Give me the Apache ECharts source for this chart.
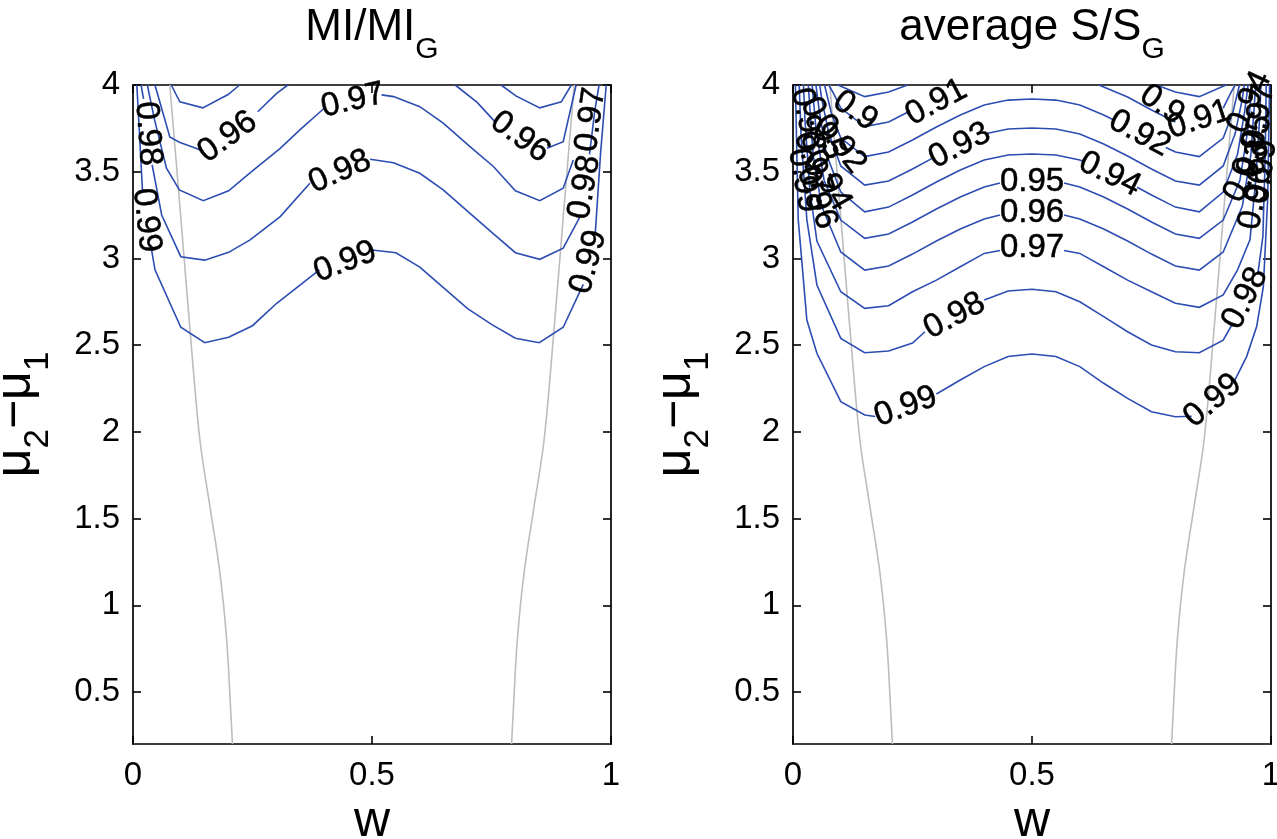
<!DOCTYPE html>
<html><head><meta charset="utf-8">
<script src="https://cdn.jsdelivr.net/npm/echarts@6/dist/echarts.min.js"></script>
<style>html,body{margin:0;padding:0;background:#fff}#c{width:1277px;height:839px}</style>
</head><body><div id="c"></div>
<script>
// ---------- data ----------
const xTicks = [0, 0.5, 1];
const yTicks = [0.5, 1, 1.5, 2, 2.5, 3, 3.5, 4];

// gray boundary curves (same in both panels)
const grayLeft = [[0.077,4.0],[0.099,3.27],[0.121,2.53],[0.14,1.953],[0.161,1.568],[0.182,1.184],[0.196,0.8],[0.204,0.415],[0.208,0.2]];
const grayRight = [[0.923,4.0],[0.901,3.27],[0.879,2.53],[0.86,1.953],[0.839,1.568],[0.818,1.184],[0.804,0.8],[0.796,0.415],[0.792,0.2]];

// left panel: MI/MI_G contours (segments, broken where labels sit)
const mi099 = [
  [[0.008,4.0],[0.013,3.75],[0.02,3.38]],
  [[0.037,3.08],[0.046,2.934],[0.1,2.603],[0.15,2.514],[0.2,2.545],[0.25,2.612],[0.3,2.74],[0.39,2.934]],
  [[0.5,3.049],[0.55,3.033],[0.6,2.95],[0.65,2.83],[0.7,2.71],[0.75,2.62],[0.8,2.54],[0.85,2.514],[0.9,2.603],[0.942,2.85]],
  [[0.967,3.14],[0.978,3.6],[0.99,4.0]]
];
const mi098 = [
  [[0.017,4.0],[0.022,3.92]],
  [[0.04,3.54],[0.06,3.25],[0.1,3.01],[0.15,2.99],[0.2,3.035],[0.245,3.107],[0.308,3.241],[0.37,3.434]],
  [[0.496,3.572],[0.545,3.552],[0.6,3.491],[0.649,3.395],[0.705,3.26],[0.753,3.145],[0.8,3.033],[0.851,2.995],[0.9,3.059],[0.935,3.24]],
  [[0.955,3.6],[0.966,3.85],[0.975,4.0]]
];
const mi097 = [
  [[0.03,4.0],[0.045,3.8],[0.07,3.52],[0.097,3.395],[0.147,3.333],[0.2,3.39],[0.248,3.5],[0.308,3.635],[0.349,3.741],[0.40,3.866]],
  [[0.52,3.943],[0.545,3.933],[0.6,3.875],[0.649,3.78],[0.705,3.645],[0.754,3.53],[0.8,3.39],[0.851,3.333],[0.9,3.405],[0.921,3.568]]
];
const mi096 = [
  [[0.046,4.0],[0.077,3.7],[0.097,3.67],[0.147,3.62]],
  [[0.261,3.846],[0.3,3.95],[0.324,4.0]],
  [[0.674,4.0],[0.72,3.9],[0.757,3.789]],
  [[0.866,3.635],[0.9,3.673],[0.927,4.0]]
];
const mi095 = [
  [[0.08,4.0],[0.098,3.903],[0.146,3.868],[0.199,3.945],[0.223,4.0]],
  [[0.77,4.0],[0.801,3.937],[0.851,3.868],[0.896,3.903],[0.917,4.0]]
];
// [text, w, y, rotation]
const miLabels = [
  ['0.99',0.028,3.22,-84],['0.99',0.444,2.98,21],['0.99',0.953,2.98,75],
  ['0.98',0.031,3.72,-86],['0.98',0.433,3.50,24],['0.98',0.945,3.41,80],
  ['0.97',0.46,3.91,13],['0.97',0.958,3.80,82],
  ['0.96',0.198,3.70,36],['0.96',0.81,3.70,-36]
];

// right panel: average S/S_G contours
const s099 = [
  [[0.005,4.0],[0.011,3.222],[0.029,2.645],[0.05,2.453],[0.1,2.174],[0.15,2.097],[0.172,2.088]],
  [[0.3,2.218],[0.35,2.299],[0.4,2.376],[0.45,2.434],[0.5,2.449],[0.55,2.434],[0.6,2.376],[0.65,2.28],[0.7,2.193],[0.75,2.116],[0.8,2.087],[0.834,2.09]],
  [[0.921,2.28],[0.949,2.434],[0.97,2.607],[0.984,2.837],[0.993,3.34],[0.997,4.0]]
];
const s098 = [
  [[0.013,4.0],[0.017,3.7],[0.029,3.222],[0.05,2.847],[0.1,2.539],[0.15,2.456],[0.2,2.466],[0.25,2.512],[0.276,2.577]],
  [[0.4,2.76],[0.45,2.812],[0.5,2.822],[0.55,2.808],[0.6,2.75],[0.65,2.664],[0.7,2.577],[0.75,2.501],[0.8,2.462],[0.85,2.456],[0.9,2.529],[0.918,2.616]],
  [[0.973,2.922],[0.983,3.126],[0.988,3.6],[0.99,4.0]]
];
const s097 = [
  [[0.022,4.0],[0.025,3.8],[0.035,3.4],[0.05,3.1],[0.1,2.808],[0.15,2.712],[0.2,2.727],[0.25,2.808],[0.3,2.875],[0.35,2.952],[0.4,3.029],[0.433,3.046]],
  [[0.567,3.046],[0.6,3.029],[0.65,2.952],[0.7,2.875],[0.75,2.808],[0.8,2.741],[0.85,2.718],[0.9,2.789],[0.93,2.934],[0.956,3.107],[0.968,3.45],[0.976,3.8],[0.979,4.0]]
];
const s096 = [
  [[0.032,4.0],[0.042,3.6],[0.06,3.3],[0.1,3.037],[0.15,2.933],[0.2,2.956],[0.25,3.025],[0.3,3.1],[0.35,3.17],[0.4,3.227],[0.433,3.25]],
  [[0.567,3.25],[0.6,3.227],[0.65,3.17],[0.7,3.1],[0.75,3.025],[0.8,2.956],[0.85,2.933],[0.9,3.037],[0.94,3.3],[0.958,3.6],[0.968,4.0]]
];
const s095 = [
  [[0.04,4.0],[0.048,3.75],[0.065,3.45],[0.1,3.221],[0.15,3.116],[0.2,3.141],[0.25,3.21],[0.3,3.285],[0.35,3.354],[0.4,3.412],[0.433,3.435]],
  [[0.567,3.435],[0.6,3.412],[0.65,3.354],[0.7,3.285],[0.75,3.21],[0.8,3.141],[0.85,3.116],[0.9,3.221],[0.935,3.45],[0.952,3.75],[0.96,4.0]]
];
const s094 = [
  [[0.048,4.0],[0.055,3.85],[0.07,3.6],[0.1,3.383],[0.15,3.269],[0.2,3.296],[0.25,3.366],[0.3,3.441],[0.35,3.51],[0.4,3.567],[0.45,3.596],[0.5,3.602],[0.55,3.596],[0.6,3.567],[0.607,3.56]],
  [[0.72,3.41],[0.75,3.366],[0.8,3.296],[0.85,3.269],[0.9,3.383],[0.93,3.6],[0.945,3.85],[0.952,4.0]]
];
const s093 = [
  [[0.056,4.0],[0.06,3.92],[0.075,3.72],[0.1,3.533],[0.15,3.423],[0.2,3.446],[0.25,3.516],[0.293,3.58]],
  [[0.405,3.72],[0.45,3.746],[0.5,3.752],[0.55,3.746],[0.6,3.717],[0.65,3.66],[0.7,3.591],[0.75,3.516],[0.8,3.446],[0.85,3.423],[0.9,3.533],[0.925,3.72],[0.94,3.92],[0.944,4.0]]
];
const s092 = [
  [[0.066,4.0],[0.08,3.84],[0.1,3.694],[0.15,3.587],[0.2,3.614],[0.25,3.683],[0.3,3.758],[0.35,3.827],[0.4,3.885],[0.45,3.913],[0.5,3.919],[0.55,3.913],[0.6,3.885],[0.65,3.827],[0.67,3.80]],
  [[0.78,3.64],[0.8,3.614],[0.85,3.587],[0.9,3.694],[0.92,3.84],[0.934,4.0]]
];
const s091 = [
  [[0.075,4.0],[0.085,3.95],[0.1,3.867],[0.15,3.76],[0.2,3.787],[0.245,3.85]],
  [[0.64,4.0],[0.7,3.931],[0.75,3.856],[0.8,3.787]],
  [[0.9,3.867],[0.915,3.95],[0.925,4.0]]
];
const s090 = [
  [[0.094,4.0],[0.15,3.933],[0.2,3.96],[0.24,4.0]],
  [[0.76,4.0],[0.8,3.96],[0.85,3.933],[0.906,4.0]]
];
const sLabels = [
  ['0.99',0.236,2.145,20],['0.99',0.878,2.18,40],
  ['0.98',0.338,2.668,28],['0.98',0.946,2.77,63],
  ['0.97',0.5,3.06,0],['0.96',0.5,3.26,0],['0.95',0.5,3.44,0],
  ['0.94',0.663,3.485,-26],['0.93',0.349,3.65,27],['0.92',0.725,3.72,-28],
  ['0.91',0.3,3.9,28],['0.91',0.85,3.80,18],
  ['0.9',0.13,3.85,-35],['0.9',0.772,3.885,-35],
  // crowded labels along the edges
  ['0.99',0.022,3.45,-80],['0.98',0.03,3.8,-78],['0.97',0.042,3.55,-72],['0.96',0.05,3.35,-70],
  ['0.95',0.062,3.75,-65],['0.94',0.072,3.45,-60],['0.92',0.098,3.66,-52],
  ['0.99',0.982,3.5,82],['0.97',0.975,3.82,80],['0.96',0.968,3.35,78],
  ['0.95',0.962,3.65,72],['0.94',0.955,3.9,65],['0.93',0.95,3.5,62]
];

// ---------- chart ----------
const FONT = '"Liberation Sans", Arial, Helvetica, sans-serif';
const BLUE = '#2c4db2';
const GRAY = '#bdbdbd';
const grids = [
  {left:133, top:85, width:478, height:659, containLabel:false, outerBoundsMode:'none'},
  {left:793, top:85, width:478, height:659, containLabel:false, outerBoundsMode:'none'}
];

const axisLine = {show:true, onZero:false, lineStyle:{color:'#000', width:1.7}};
const tickStyle = {color:'#000', width:1.6};
const labelFont = {fontSize:33, color:'#000', fontFamily:FONT};
const richName = {
  m:{fontSize:50, fontFamily:FONT, color:'#000', lineHeight:56, verticalAlign:'top'},
  s:{fontSize:35, fontFamily:FONT, color:'#000', lineHeight:35, padding:[30,0,0,0], verticalAlign:'top'}
};

const xAxis = [], yAxis = [];
[0,1].forEach(gi => {
  xAxis.push({type:'value', gridIndex:gi, position:'bottom', min:0, max:1, axisLine,
    axisTick:{show:true, inside:true, length:8, customValues:xTicks, lineStyle:tickStyle},
    axisLabel:Object.assign({show:true, customValues:xTicks, margin:15}, labelFont),
    splitLine:{show:false}, name:'w', nameLocation:'middle', nameGap:52,
    nameTextStyle:{fontSize:50, color:'#000', fontFamily:FONT}});
  xAxis.push({type:'value', gridIndex:gi, position:'top', min:0, max:1, axisLine,
    axisTick:{show:true, inside:true, length:8, customValues:xTicks, lineStyle:tickStyle},
    axisLabel:{show:false}, splitLine:{show:false}});
  yAxis.push({type:'value', gridIndex:gi, position:'left', min:0.2, max:4, axisLine,
    axisTick:{show:true, inside:true, length:8, customValues:yTicks, lineStyle:tickStyle},
    axisLabel:Object.assign({show:true, customValues:yTicks, margin:13}, labelFont),
    splitLine:{show:false}, name:'{m|μ}{s|2}{m|−μ}{s|1}', nameLocation:'middle', nameRotate:90, nameGap:86,
    nameTextStyle:{rich:richName}});
  yAxis.push({type:'value', gridIndex:gi, position:'right', min:0.2, max:4, axisLine,
    axisTick:{show:true, inside:true, length:8, customValues:yTicks, lineStyle:tickStyle},
    axisLabel:{show:false}, splitLine:{show:false}});
});

function linesSeries(gi, segs, color, width, z) {
  return {type:'lines', coordinateSystem:'cartesian2d', xAxisIndex:2*gi, yAxisIndex:2*gi,
    polyline:true, silent:true, z:z, animation:false,
    lineStyle:{color:color, width:width, opacity:1},
    data:segs.map(s => ({coords:s}))};
}
function grayCurve(gi, pts) {
  return {type:'line', xAxisIndex:2*gi, yAxisIndex:2*gi, data:pts, smooth:0.35, showSymbol:false,
    symbol:'none', silent:true, z:1, animation:false, lineStyle:{color:GRAY, width:1.6}};
}
function labelSeries(gi, arr) {
  return {type:'scatter', xAxisIndex:2*gi, yAxisIndex:2*gi, symbolSize:0, silent:true, z:6, clip:false,
    itemStyle:{color:'rgba(0,0,0,0)'}, animation:false,
    label:{show:true, position:'inside', formatter:'{b}', fontSize:33, color:'#000', opacity:1,
      textBorderWidth:0.5, textBorderColor:'#000', fontFamily:FONT},
    data:arr.map(([t,w,y,r]) => ({value:[w,y], name:t, label:{rotate:r}}))};
}

const series = [
  grayCurve(0, grayLeft), grayCurve(0, grayRight),
  grayCurve(1, grayLeft), grayCurve(1, grayRight),
  linesSeries(0, [].concat(mi099, mi098, mi097, mi096, mi095), BLUE, 1.6, 2),
  linesSeries(1, [].concat(s099, s098, s097, s096, s095, s094, s093, s092, s091, s090), BLUE, 1.6, 2),
  labelSeries(0, miLabels),
  labelSeries(1, sLabels)
];

const titleRich = {
  m:{fontSize:44, fontFamily:FONT, fill:'#000', lineHeight:50, verticalAlign:'top'},
  s:{fontSize:30, fontFamily:FONT, fill:'#000', lineHeight:30, padding:[29,0,0,0], verticalAlign:'top'}
};
const graphic = [
  {type:'text', x:372, y:6, style:{text:'{m|MI/MI}{s|G}', rich:titleRich, align:'center', verticalAlign:'top'}},
  {type:'text', x:1032, y:6, style:{text:'{m|average S/S}{s|G}', rich:titleRich, align:'center', verticalAlign:'top'}}
];

const chart = echarts.init(document.getElementById('c'));
chart.setOption({animation:false, backgroundColor:'#fff', textStyle:{fontFamily:FONT},
  grid:grids, xAxis, yAxis, series, graphic});
</script></body></html>
